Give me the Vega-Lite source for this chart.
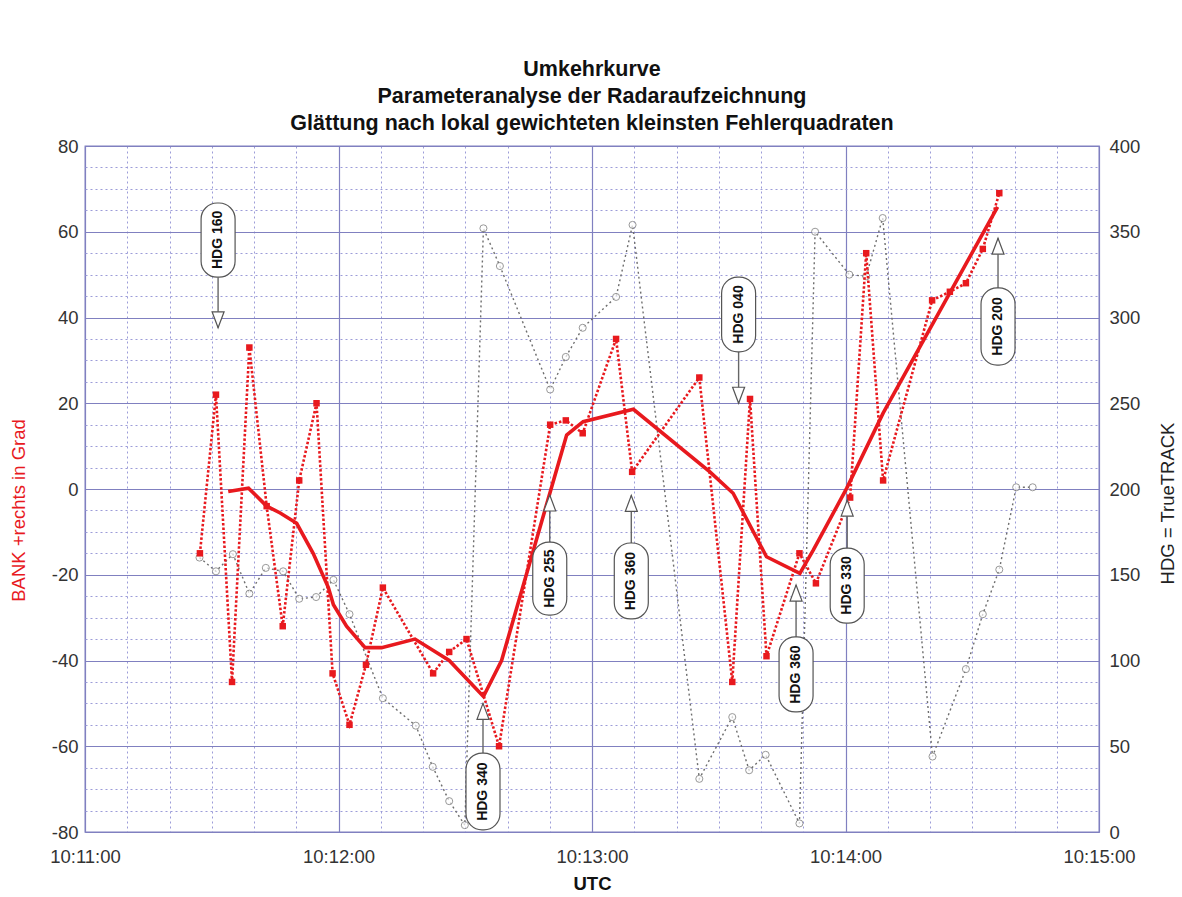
{
  "$schema": "https://vega.github.io/schema/vega-lite/v6.json",
  "width": 1014,
  "height": 686,
  "autosize": {"type": "none"},
  "padding": {"left": 85, "top": 146, "right": 83, "bottom": 65},
  "background": "white",
  "config": {
    "font": "Liberation Sans",
    "view": {"stroke": "#8080c0", "strokeWidth": 1.3},
    "axis": {"labelFont": "Liberation Sans", "titleFont": "Liberation Sans", "labelColor": "#333333", "labelFontSize": 18.5, "ticks": false, "domain": false}
  },
  "title": {
    "text": ["Umkehrkurve", "Parameteranalyse der Radaraufzeichnung", "Glättung nach lokal gewichteten kleinsten Fehlerquadraten"],
    "fontSize": 21.5, "fontWeight": "bold", "font": "Liberation Sans", "color": "#111111", "lineHeight": 27, "offset": 3, "anchor": "middle"
  },
  "datasets": {
    "bank": [
      {"sec": 27.2, "bank": -15},
      {"sec": 31.0, "bank": 22},
      {"sec": 34.8, "bank": -45},
      {"sec": 38.9, "bank": 33},
      {"sec": 43.0, "bank": -4},
      {"sec": 46.8, "bank": -32},
      {"sec": 50.7, "bank": 2},
      {"sec": 54.8, "bank": 20},
      {"sec": 58.6, "bank": -43},
      {"sec": 62.6, "bank": -55},
      {"sec": 66.5, "bank": -41},
      {"sec": 70.5, "bank": -23},
      {"sec": 82.4, "bank": -43},
      {"sec": 86.2, "bank": -38},
      {"sec": 90.3, "bank": -35},
      {"sec": 98.0, "bank": -60},
      {"sec": 110.1, "bank": 15},
      {"sec": 113.8, "bank": 16},
      {"sec": 117.8, "bank": 13},
      {"sec": 125.7, "bank": 35},
      {"sec": 129.5, "bank": 4},
      {"sec": 145.4, "bank": 26},
      {"sec": 153.2, "bank": -45},
      {"sec": 157.4, "bank": 21},
      {"sec": 161.3, "bank": -39},
      {"sec": 169.1, "bank": -15},
      {"sec": 173.0, "bank": -22},
      {"sec": 181.1, "bank": -2},
      {"sec": 184.9, "bank": 55},
      {"sec": 188.9, "bank": 2},
      {"sec": 200.5, "bank": 44},
      {"sec": 204.7, "bank": 46},
      {"sec": 208.5, "bank": 48},
      {"sec": 212.5, "bank": 56},
      {"sec": 216.4, "bank": 69}
    ],
    "smooth": [
      {"sec": 33.9, "bank": -0.6},
      {"sec": 38.7, "bank": 0.2},
      {"sec": 43.0, "bank": -4},
      {"sec": 46.2, "bank": -5.6},
      {"sec": 50.1, "bank": -8},
      {"sec": 54.0, "bank": -15},
      {"sec": 57.6, "bank": -23},
      {"sec": 58.8, "bank": -27},
      {"sec": 61.9, "bank": -32},
      {"sec": 66.3, "bank": -37},
      {"sec": 70.2, "bank": -37},
      {"sec": 78.1, "bank": -35},
      {"sec": 86.2, "bank": -40},
      {"sec": 94.3, "bank": -48.4},
      {"sec": 98.6, "bank": -40},
      {"sec": 114.0, "bank": 12.6},
      {"sec": 117.9, "bank": 15.7},
      {"sec": 129.8, "bank": 18.6},
      {"sec": 147.9, "bank": 4},
      {"sec": 153.4, "bank": -1},
      {"sec": 161.3, "bank": -15.8},
      {"sec": 169.2, "bank": -19.7},
      {"sec": 172.4, "bank": -14.2},
      {"sec": 180.3, "bank": 0.2},
      {"sec": 188.9, "bank": 17.7},
      {"sec": 216.0, "bank": 65.8}
    ],
    "hdg": [
      {"sec": 27.1, "hdg": 160},
      {"sec": 31.0, "hdg": 152},
      {"sec": 35.0, "hdg": 162},
      {"sec": 38.9, "hdg": 139},
      {"sec": 42.8, "hdg": 154},
      {"sec": 46.9, "hdg": 152},
      {"sec": 50.7, "hdg": 136},
      {"sec": 54.7, "hdg": 137},
      {"sec": 58.8, "hdg": 147},
      {"sec": 62.6, "hdg": 127},
      {"sec": 70.5, "hdg": 78},
      {"sec": 78.3, "hdg": 62},
      {"sec": 82.3, "hdg": 38},
      {"sec": 86.2, "hdg": 18},
      {"sec": 89.9, "hdg": 4},
      {"sec": 94.3, "hdg": 352},
      {"sec": 98.2, "hdg": 330},
      {"sec": 110.1, "hdg": 258},
      {"sec": 113.8, "hdg": 277},
      {"sec": 117.8, "hdg": 294},
      {"sec": 125.7, "hdg": 312},
      {"sec": 129.6, "hdg": 354},
      {"sec": 145.4, "hdg": 31},
      {"sec": 153.2, "hdg": 67},
      {"sec": 157.2, "hdg": 36},
      {"sec": 161.1, "hdg": 45},
      {"sec": 169.1, "hdg": 5},
      {"sec": 172.8, "hdg": 350},
      {"sec": 180.9, "hdg": 325},
      {"sec": 184.9, "hdg": 324},
      {"sec": 188.8, "hdg": 358},
      {"sec": 200.6, "hdg": 44},
      {"sec": 208.5, "hdg": 95},
      {"sec": 212.5, "hdg": 127},
      {"sec": 216.4, "hdg": 153},
      {"sec": 220.4, "hdg": 201},
      {"sec": 224.3, "hdg": 201}
    ],
    "notes": [
      {"label": "HDG 160", "sec": 31.5, "boxA": 66.7, "boxB": 49.4, "mid": 58.1, "tail": 49.4, "tip": 37.6, "dir": "down"},
      {"label": "HDG 340", "sec": 94.2, "boxA": -61.6, "boxB": -79.5, "mid": -70.6, "tail": -61.6, "tip": -50, "dir": "up"},
      {"label": "HDG 255", "sec": 110.0, "boxA": -12.4, "boxB": -29.4, "mid": -20.9, "tail": -12.4, "tip": -1.4, "dir": "up"},
      {"label": "HDG 360", "sec": 129.3, "boxA": -12.6, "boxB": -30.3, "mid": -21.5, "tail": -12.6, "tip": -1.5, "dir": "up"},
      {"label": "HDG 040", "sec": 154.7, "boxA": 49.4, "boxB": 32, "mid": 40.7, "tail": 32, "tip": 20, "dir": "down"},
      {"label": "HDG 360", "sec": 168.3, "boxA": -34.5, "boxB": -52, "mid": -43.3, "tail": -34.5, "tip": -22.4, "dir": "up"},
      {"label": "HDG 330", "sec": 180.4, "boxA": -13.8, "boxB": -31.3, "mid": -22.5, "tail": -13.8, "tip": -2.6, "dir": "up"},
      {"label": "HDG 200", "sec": 216.1, "boxA": 46.9, "boxB": 28.9, "mid": 37.9, "tail": 46.9, "tip": 58.5, "dir": "up"}
    ]
  },
  "resolve": {"scale": {"y": "independent"}, "axis": {"x": "independent", "y": "independent"}},
  "layer": [
    {
      "data": {"name": "smooth"},
      "mark": {"type": "line", "opacity": 0},
      "encoding": {
        "x": {"field": "sec", "type": "quantitative", "scale": {"domain": [0, 240], "nice": false, "zero": false},
          "axis": {"orient": "bottom", "labels": false, "title": null, "grid": true, "gridColor": "#9c9cd8", "gridDash": [2, 3], "gridWidth": 1,
            "values": [10, 20, 30, 40, 50, 70, 80, 90, 100, 110, 130, 140, 150, 160, 170, 190, 200, 210, 220, 230]}},
        "y": {"field": "bank", "type": "quantitative", "scale": {"domain": [-80, 80], "nice": false, "zero": false},
          "axis": {"orient": "left", "labels": false, "title": null, "grid": true, "gridColor": "#9c9cd8", "gridDash": [2, 3], "gridWidth": 1,
            "values": [-75, -70, -65, -55, -50, -45, -35, -30, -25, -15, -10, -5, 5, 10, 15, 25, 30, 35, 45, 50, 55, 65, 70, 75]}}
      }
    },
    {
      "data": {"name": "bank"},
      "mark": {"type": "line", "opacity": 0},
      "encoding": {
        "x": {"field": "sec", "type": "quantitative", "scale": {"domain": [0, 240], "nice": false, "zero": false},
          "axis": {"orient": "bottom", "labelExpr": "'10:1' + (1 + datum.value / 60) + ':00'", "title": "UTC", "titleFontSize": 18.5, "titleFontWeight": "bold", "titleColor": "#111111", "titlePadding": 9,
            "labelPadding": 15, "labelFlush": false, "grid": true, "gridColor": "#8080c0", "gridWidth": 1.2,
            "values": [0, 60, 120, 180, 240]}},
        "y": {"field": "bank", "type": "quantitative", "scale": {"domain": [-80, 80], "nice": false, "zero": false},
          "axis": {"orient": "left", "values": [-80, -60, -40, -20, 0, 20, 40, 60, 80], "labelExpr": "'' + datum.value", "labelPadding": 7, "grid": true, "gridColor": "#8080c0", "gridWidth": 1.2,
            "title": "BANK +rechts in Grad", "titleColor": "#e8191e", "titleFontSize": 18.5, "titleFontWeight": "normal",
            "titleAngle": 270, "titleX": -67, "titleY": 364, "titleAlign": "center", "titleBaseline": "middle"}}
      }
    },
    {
      "data": {"name": "hdg"},
      "mark": {"type": "line", "color": "#6e6e6e", "strokeWidth": 1.4, "strokeDash": [2, 3]},
      "encoding": {
        "x": {"field": "sec", "type": "quantitative", "axis": null},
        "y": {"field": "hdg", "type": "quantitative", "scale": {"domain": [0, 400], "nice": false, "zero": false},
          "axis": {"orient": "right", "values": [0, 50, 100, 150, 200, 250, 300, 350, 400], "labelPadding": 10, "grid": false,
            "title": "HDG = TrueTRACK", "titleColor": "#222222", "titleFontSize": 18.5, "titleFontWeight": "normal",
            "titleAngle": 270, "titleX": 68, "titleY": 357, "titleAlign": "center", "titleBaseline": "middle"}}
      }
    },
    {
      "data": {"name": "hdg"},
      "mark": {"type": "point", "shape": "circle", "filled": true, "fill": "white", "stroke": "#6e6e6e", "strokeWidth": 1, "size": 50},
      "encoding": {
        "x": {"field": "sec", "type": "quantitative", "axis": null},
        "y": {"field": "hdg", "type": "quantitative", "scale": {"domain": [0, 400], "nice": false, "zero": false}, "axis": null}
      }
    },
    {
      "data": {"name": "bank"},
      "mark": {"type": "line", "color": "#e8191e", "strokeWidth": 2.6, "strokeDash": [2.5, 2]},
      "encoding": {
        "x": {"field": "sec", "type": "quantitative", "axis": null},
        "y": {"field": "bank", "type": "quantitative", "scale": {"domain": [-80, 80], "nice": false, "zero": false}, "axis": null}
      }
    },
    {
      "data": {"name": "bank"},
      "mark": {"type": "point", "shape": "square", "filled": true, "color": "#e8191e", "opacity": 1, "size": 42},
      "encoding": {
        "x": {"field": "sec", "type": "quantitative", "axis": null},
        "y": {"field": "bank", "type": "quantitative", "scale": {"domain": [-80, 80], "nice": false, "zero": false}, "axis": null}
      }
    },
    {
      "data": {"name": "smooth"},
      "mark": {"type": "line", "color": "#e8191e", "strokeWidth": 3.6},
      "encoding": {
        "x": {"field": "sec", "type": "quantitative", "axis": null},
        "y": {"field": "bank", "type": "quantitative", "scale": {"domain": [-80, 80], "nice": false, "zero": false}, "axis": null}
      }
    },
    {
      "data": {"name": "notes"},
      "mark": {"type": "rule", "color": "#666666", "strokeWidth": 1.4},
      "encoding": {
        "x": {"field": "sec", "type": "quantitative", "axis": null},
        "y": {"field": "tail", "type": "quantitative", "scale": {"domain": [-80, 80], "nice": false, "zero": false}, "axis": null},
        "y2": {"field": "tip"}
      }
    },
    {
      "data": {"name": "notes"},
      "mark": {"type": "point", "filled": true, "fill": "white", "stroke": "#555555", "strokeWidth": 1.2, "size": 1024, "opacity": 1},
      "encoding": {
        "x": {"field": "sec", "type": "quantitative", "axis": null},
        "y": {"field": "tip", "type": "quantitative", "scale": {"domain": [-80, 80], "nice": false, "zero": false}, "axis": null},
        "shape": {"field": "dir", "type": "nominal", "legend": null,
          "scale": {"domain": ["up", "down"], "range": ["M0,0L-0.375,1L0.375,1Z", "M0,0L-0.375,-1L0.375,-1Z"]}}
      }
    },
    {
      "data": {"name": "notes"},
      "mark": {"type": "rect", "width": 34, "cornerRadius": 16, "fill": "white", "stroke": "#555555", "strokeWidth": 1.2},
      "encoding": {
        "x": {"field": "sec", "type": "quantitative", "axis": null},
        "y": {"field": "boxA", "type": "quantitative", "scale": {"domain": [-80, 80], "nice": false, "zero": false}, "axis": null},
        "y2": {"field": "boxB"}
      }
    },
    {
      "data": {"name": "notes"},
      "mark": {"type": "text", "angle": 270, "font": "Liberation Sans", "fontWeight": "bold", "fontSize": 14, "color": "#111111", "align": "center", "baseline": "middle"},
      "encoding": {
        "x": {"field": "sec", "type": "quantitative", "axis": null},
        "y": {"field": "mid", "type": "quantitative", "scale": {"domain": [-80, 80], "nice": false, "zero": false}, "axis": null},
        "text": {"field": "label"}
      }
    }
  ]
}
